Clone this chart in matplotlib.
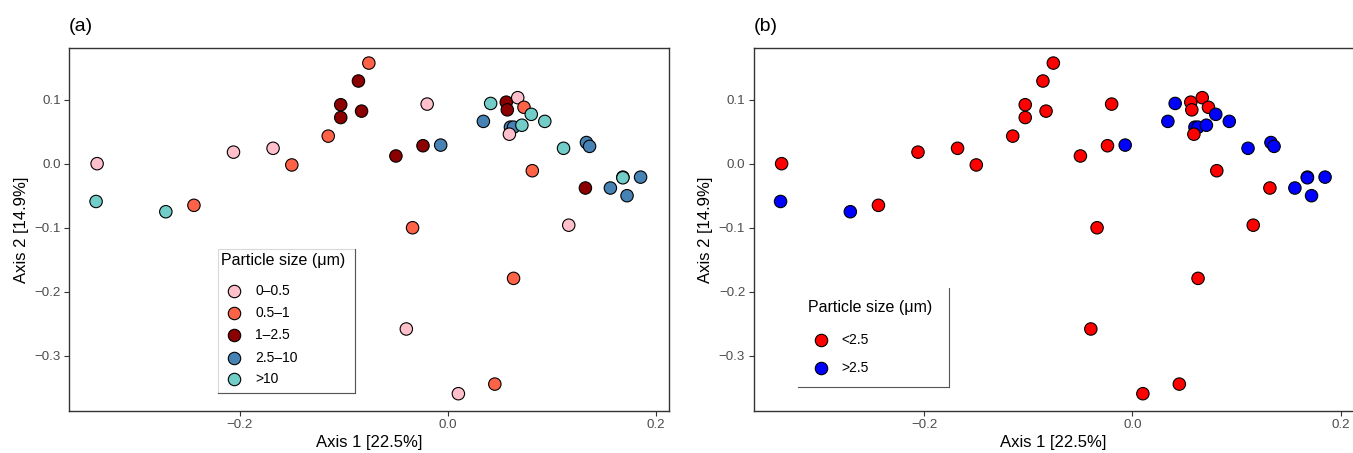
import matplotlib
matplotlib.use("Agg")
import matplotlib.pyplot as plt
from matplotlib.lines import Line2D
from matplotlib.patches import Rectangle

plt.rcParams['font.family'] = ['Liberation Sans', 'DejaVu Sans']

# ---- data ----
axis1 = [-0.337, -0.338, -0.271, -0.244, -0.206, -0.168, -0.150, -0.115,
         -0.103, -0.103, -0.086, -0.083, -0.076, -0.050, -0.020, -0.024,
         -0.007, -0.034, -0.040, 0.010, 0.045, 0.063, 0.034, 0.041,
         0.056, 0.057, 0.067, 0.073, 0.080, 0.093, 0.060, 0.063,
         0.071, 0.059, 0.081, 0.111, 0.133, 0.136, 0.132, 0.116,
         0.156, 0.172, 0.185, 0.168, 0.168]
axis2 = [0.000, -0.059, -0.075, -0.065, 0.018, 0.024, -0.002, 0.043,
         0.092, 0.072, 0.129, 0.082, 0.157, 0.012, 0.093, 0.028,
         0.029, -0.100, -0.258, -0.359, -0.344, -0.179, 0.066, 0.094,
         0.096, 0.084, 0.103, 0.088, 0.077, 0.066, 0.057, 0.057,
         0.060, 0.046, -0.011, 0.024, 0.033, 0.027, -0.038, -0.096,
         -0.038, -0.050, -0.021, -0.021, -0.022]
size_class = ['0–0.5', '>10', '>10', '0.5–1', '0–0.5', '0–0.5', '0.5–1', '0.5–1',
              '1–2.5', '1–2.5', '1–2.5', '1–2.5', '0.5–1', '1–2.5', '0–0.5', '1–2.5',
              '2.5–10', '0.5–1', '0–0.5', '0–0.5', '0.5–1', '0.5–1', '2.5–10', '>10',
              '1–2.5', '1–2.5', '0–0.5', '0.5–1', '>10', '>10', '2.5–10', '2.5–10',
              '>10', '0–0.5', '0.5–1', '>10', '2.5–10', '2.5–10', '1–2.5', '0–0.5',
              '2.5–10', '2.5–10', '2.5–10', '>10', '>10']

classes_a = ['0–0.5', '0.5–1', '1–2.5', '2.5–10', '>10']
colors_a = ['#FFC0CB', '#FF6347', '#8B0000', '#4682B4', '#72CDC8']
classes_b = ['<2.5', '>2.5']
colors_b = ['#FF0000', '#0000FF']
class_to_group = {'0–0.5': '<2.5', '0.5–1': '<2.5', '1–2.5': '<2.5',
                  '2.5–10': '>2.5', '>10': '>2.5'}

xticks = [-0.2, 0.0, 0.2]
yticks = [0.1, 0.0, -0.1, -0.2, -0.3]
xlim = (-0.364, 0.2123)
ylim = (-0.386, 0.181)

W, H = 1353, 453
fig = plt.figure(figsize=(W / 100, H / 100), dpi=100)

def frac(px_left, px_top, px_right, px_bottom):
    return [px_left / W, 1 - px_bottom / H, (px_right - px_left) / W, (px_bottom - px_top) / H]

ax_a = fig.add_axes(frac(69, 47.7, 669, 411))
ax_b = fig.add_axes(frac(753.5, 47.7, 1353.5, 411))

def style(ax, tag, right_spine=True):
    ax.set_xlim(*xlim)
    ax.set_ylim(*ylim)
    ax.set_xticks(xticks)
    ax.set_yticks(yticks)
    ax.set_xticklabels([f"{t:.1f}".replace('-', '−') for t in xticks])
    ax.set_yticklabels([f"{t:.1f}".replace('-', '−') for t in yticks])
    ax.tick_params(axis='both', length=3.5, width=0.8, color='#333333',
                   labelsize=9.6, labelcolor='#4D4D4D', pad=2.5)
    for s in ax.spines.values():
        s.set_color('#333333')
        s.set_linewidth(1.0)
    if not right_spine:
        ax.spines['right'].set_visible(False)
    ax.set_xlabel('Axis 1 [22.5%]', fontsize=12, labelpad=3)
    ax.set_ylabel('Axis 2 [14.9%]', fontsize=12, labelpad=4)
    ax.text(0.0, 1.035, tag, transform=ax.transAxes, fontsize=14, ha='left', va='bottom')

style(ax_a, '(a)')
style(ax_b, '(b)', right_spine=False)

cmap_a = dict(zip(classes_a, colors_a))
cmap_b = dict(zip(classes_b, colors_b))
ax_a.scatter(axis1, axis2, s=80, c=[cmap_a[c] for c in size_class],
             edgecolors='black', linewidths=0.8, zorder=3)
ax_b.scatter(axis1, axis2, s=80, c=[cmap_b[class_to_group[c]] for c in size_class],
             edgecolors='black', linewidths=0.8, zorder=3)

# ---- legends (drawn in axes fraction) ----
def legend(ax, box, title_pos, mk_x, lab_x, rows, labels, colors, full_box):
    x0, y0, x1, y1 = box
    ax.add_patch(Rectangle((x0, y0), x1 - x0, y1 - y0, transform=ax.transAxes,
                           facecolor='white', edgecolor='#D9D9D9' if full_box else 'none',
                           linewidth=0.8, zorder=5))
    ax.add_line(Line2D([x1, x1], [y0, y1], transform=ax.transAxes, color='#555555', lw=0.8, zorder=6))
    ax.add_line(Line2D([x0, x1], [y0, y0], transform=ax.transAxes, color='#555555', lw=0.8, zorder=6))
    ax.text(title_pos[0], title_pos[1], 'Particle size (μm)', transform=ax.transAxes,
            fontsize=11.5, ha='left', va='center', zorder=7)
    for yy, lab, col in zip(rows, labels, colors):
        ax.scatter([mk_x], [yy], s=80, c=[col], edgecolors='black', linewidths=0.8,
                   transform=ax.transAxes, zorder=7, clip_on=False)
        ax.text(lab_x, yy, lab, transform=ax.transAxes, fontsize=10, ha='left',
                va='center', zorder=7)

legend(ax_a, (0.248, 0.0495, 0.477, 0.446), (0.253, 0.414), 0.275, 0.31,
       [0.331, 0.270, 0.209, 0.147, 0.087], classes_a, colors_a, True)
legend(ax_b, (0.074, 0.066, 0.326, 0.3386), (0.0908, 0.286), 0.1117, 0.147,
       [0.1954, 0.119], classes_b, colors_b, False)

fig.savefig('out.png', dpi=100)
